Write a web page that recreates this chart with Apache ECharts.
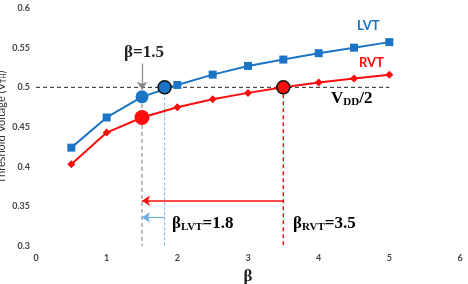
<!DOCTYPE html>
<html>
<head>
<meta charset="utf-8">
<script src="https://cdn.jsdelivr.net/npm/echarts@6/dist/echarts.min.js"></script>
<style>
  html, body { margin: 0; padding: 0; background: #fff; }
  #chart { width: 468px; height: 284px; }
</style>
</head>
<body>
<div id="chart"></div>
<script>
// beta values and threshold voltages
const betas = [0.5, 1, 1.5, 2, 2.5, 3, 3.5, 4, 4.5, 5];
const lvt = [0.424, 0.462, 0.488, 0.503, 0.516, 0.527, 0.535, 0.543, 0.550, 0.557];
const rvt = [0.403, 0.443, 0.462, 0.475, 0.485, 0.493, 0.500, 0.506, 0.511, 0.516];

const vddHalf = 0.5;
const betaTarget = 1.5;
const betaLvt = 1.82;
const betaRvt = 3.5;
const lvtAtTarget = 0.488;
const rvtAtTarget = 0.462;
const yMin = 0.3;
const arrowRvtY = 0.357;
const arrowLvtY = 0.336;
const pointerTop = 0.53;
const pointerEnd = 0.497;

const BLUE = '#1c74c4';
const RED = '#fb0d0d';
const serif = '"Liberation Serif", "DejaVu Serif", serif';
const sans = 'Lato, "Open Sans", sans-serif';

const chart = echarts.init(document.getElementById('chart'));

const pair = (xs, ys) => xs.map((x, i) => [x, ys[i]]);

function guide(data, color, type, width) {
  return {
    type: 'line', data, symbol: 'none', silent: true, z: 1,
    lineStyle: { color, type, width: width || 1 }
  };
}

function arrow(from, to, color, width) {
  return {
    type: 'line', data: [], silent: true, z: 3,
    markLine: {
      silent: true, symbol: ['none', 'arrow'], symbolSize: [8, 8],
      label: { show: false },
      lineStyle: { color, width: width || 1.5, type: 'solid' },
      data: [[{ coord: from }, { coord: to }]]
    }
  };
}

const option = {
  animation: false,
  grid: { left: 36, right: 8, top: 8, bottom: 38, containLabel: false, outerBoundsMode: 'none' },
  xAxis: {
    type: 'value', min: 0, max: 6, interval: 1,
    name: 'β', nameLocation: 'middle', nameGap: 22, nameMoveOverlap: false,
    nameTextStyle: { fontFamily: serif, fontWeight: 'bold', fontSize: 17, color: '#222' },
    axisLine: { show: false }, axisTick: { show: false }, splitLine: { show: false },
    axisLabel: { fontFamily: sans, fontSize: 9, fontWeight: 'bold', color: '#444', margin: 8 }
  },
  yAxis: {
    type: 'value', min: 0.3, max: 0.6, interval: 0.05,
    name: '{n|Threshold Voltage (V}{s|TH}{n|)}', nameLocation: 'middle', nameGap: 29,
    nameMoveOverlap: false,
    nameTextStyle: {
      rich: {
        n: { fontFamily: sans, fontSize: 11, color: '#333' },
        s: { fontFamily: sans, fontSize: 7, color: '#333', padding: [4, 0, 0, 0] }
      }
    },
    axisLine: { show: false }, axisTick: { show: false }, splitLine: { show: false },
    axisLabel: { fontFamily: sans, fontSize: 9, fontWeight: 'bold', color: '#444', margin: 6 }
  },
  series: [
    guide([[0, vddHalf], [5, vddHalf]], '#222', [4, 3]),
    guide([[betaTarget, lvtAtTarget], [betaTarget, yMin]], '#777', [4, 3]),
    guide([[betaLvt, vddHalf], [betaLvt, yMin]], '#7ab4e4', [3, 2]),
    guide([[betaRvt, vddHalf], [betaRvt, yMin]], RED, [4, 3], 1.5),
    {
      type: 'line', name: 'LVT', data: pair(betas, lvt), z: 4,
      symbol: 'rect', symbolSize: 8,
      itemStyle: { color: BLUE }, lineStyle: { color: BLUE, width: 2 }
    },
    {
      type: 'line', name: 'RVT', data: pair(betas, rvt), z: 4,
      symbol: 'diamond', symbolSize: 8,
      itemStyle: { color: RED }, lineStyle: { color: RED, width: 2 }
    },
    {
      type: 'scatter', z: 5, symbolSize: 13,
      itemStyle: { opacity: 1 },
      data: [
        { value: [betaTarget, lvtAtTarget], itemStyle: { color: BLUE, opacity: 1 } },
        { value: [betaTarget, rvtAtTarget], symbolSize: 15, itemStyle: { color: RED, opacity: 1 } },
        { value: [betaLvt, vddHalf], itemStyle: { color: BLUE, opacity: 1, borderColor: '#111', borderWidth: 1.5 } },
        { value: [betaRvt, vddHalf], itemStyle: { color: RED, opacity: 1, borderColor: '#111', borderWidth: 1.5 } }
      ]
    },
    arrow([betaRvt, arrowRvtY], [betaTarget, arrowRvtY], RED, 1.5),
    arrow([betaLvt, arrowLvtY], [betaTarget, arrowLvtY], '#6aaee2', 1.2),
    arrow([betaTarget, pointerTop], [betaTarget, pointerEnd], '#888', 1.2)
  ],
  graphic: [
    {
      type: 'text', left: 124, top: 44, z: 10,
      style: { text: 'β=1.5', fontFamily: serif, fontWeight: 'bold', fontSize: 17, fill: '#222' }
    },
    {
      type: 'text', left: 357, top: 19, z: 10,
      style: { text: 'LVT', fontFamily: sans, fontWeight: 'bold', fontSize: 13, fill: BLUE }
    },
    {
      type: 'text', left: 359, top: 56, z: 10,
      style: { text: 'RVT', fontFamily: sans, fontWeight: 'bold', fontSize: 13, fill: RED }
    },
    {
      type: 'text', left: 331, top: 90, z: 10,
      style: {
        text: '{b|V}{s|DD}{b|/2}',
        rich: {
          b: { fontFamily: serif, fontWeight: 'bold', fontSize: 17, color: '#222' },
          s: { fontFamily: serif, fontWeight: 'bold', fontSize: 11, color: '#222', padding: [8, 0, 0, 0] }
        }
      }
    },
    {
      type: 'text', left: 172, top: 215, z: 10,
      style: {
        text: '{b|β}{s|LVT}{b|=1.8}',
        rich: {
          b: { fontFamily: serif, fontWeight: 'bold', fontSize: 17, color: BLUE },
          s: { fontFamily: serif, fontWeight: 'bold', fontSize: 11, color: BLUE, padding: [8, 0, 0, 0] }
        }
      }
    },
    {
      type: 'text', left: 293, top: 215, z: 10,
      style: {
        text: '{b|β}{s|RVT}{b|=3.5}',
        rich: {
          b: { fontFamily: serif, fontWeight: 'bold', fontSize: 17, color: RED },
          s: { fontFamily: serif, fontWeight: 'bold', fontSize: 11, color: RED, padding: [8, 0, 0, 0] }
        }
      }
    }
  ]
};

chart.setOption(option);
</script>
</body>
</html>
